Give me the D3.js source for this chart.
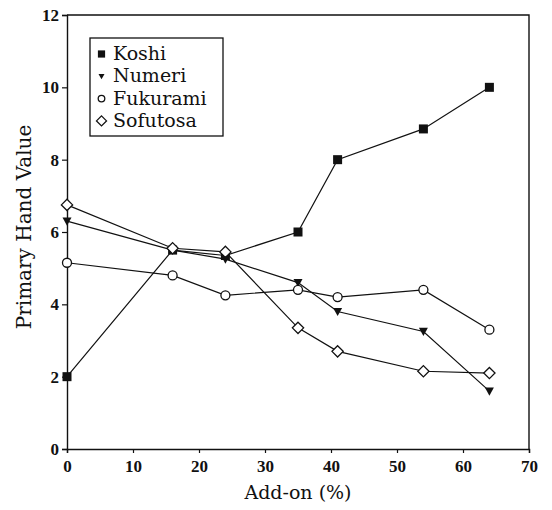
<!DOCTYPE html>
<html>
<head>
<meta charset="utf-8">
<script src="https://cdn.jsdelivr.net/npm/d3@7"></script>
<style>
  html, body { margin: 0; padding: 0; background: #fff; }
  svg { display: block; }
  text { font-family: "DejaVu Serif", "Liberation Serif", serif; fill: #111; }
</style>
</head>
<body>
<svg id="chart" width="552" height="510"></svg>
<script>
// Add-on levels (%)
const addOn = [0, 16, 24, 35, 41, 54, 64];

// Primary hand values per series
const koshi    = [2.0, 5.5, 5.35, 6.0, 8.0, 8.85, 10.0];
const numeri   = [6.3, 5.5, 5.25, 4.6, 3.8, 3.25, 1.6];
const fukurami = [5.15, 4.8, 4.25, 4.4, 4.2, 4.4, 3.3];
const sofutosa = [6.75, 5.55, 5.45, 3.35, 2.7, 2.15, 2.1];

const seriesNames = ["Koshi", "Numeri", "Fukurami", "Sofutosa"];
const xTicks = [0, 10, 20, 30, 40, 50, 60, 70];
const yTicks = [0, 2, 4, 6, 8, 10, 12];

const series = [
  { name: seriesNames[0], values: koshi,    marker: "square" },
  { name: seriesNames[1], values: numeri,   marker: "triangle" },
  { name: seriesNames[2], values: fukurami, marker: "circle" },
  { name: seriesNames[3], values: sofutosa, marker: "diamond" }
];

const svg = d3.select("#chart");
const plotLeft = 67, plotRight = 529, plotTop = 15, plotBottom = 449;

const x = d3.scaleLinear().domain([0, 70]).range([plotLeft, plotRight]);
const y = d3.scaleLinear().domain([0, 12]).range([plotBottom, plotTop]);

const ink = "#111";

// frame (top and right edges)
svg.append("path")
  .attr("d", `M${plotLeft},${plotTop}H${plotRight}V${plotBottom}`)
  .attr("fill", "none").attr("stroke", ink).attr("stroke-width", 1.4);

// axes
const xAxis = svg.append("g").attr("transform", `translate(0,${plotBottom})`)
  .call(d3.axisBottom(x).tickValues(xTicks).tickSize(4).tickPadding(7).tickFormat(d3.format("d")));
const yAxis = svg.append("g").attr("transform", `translate(${plotLeft},0)`)
  .call(d3.axisLeft(y).tickValues(yTicks).tickSize(5).tickPadding(3).tickFormat(d3.format("d")));

[xAxis, yAxis].forEach(g => {
  g.select(".domain").attr("stroke", ink).attr("stroke-width", 1.4);
  g.selectAll(".tick line").attr("stroke", ink).attr("stroke-width", 1.2);
  g.selectAll(".tick text")
    .attr("fill", ink)
    .style("font-family", "'Liberation Serif', serif")
    .style("font-size", "17px")
    .style("font-weight", "bold");
});

// axis titles
svg.append("text")
  .attr("x", (plotLeft + plotRight) / 2).attr("y", 499)
  .attr("text-anchor", "middle")
  .style("font-size", "19px")
  .text("Add-on (%)");

svg.append("text")
  .attr("transform", `translate(31,227) rotate(-90)`)
  .attr("text-anchor", "middle")
  .style("font-size", "20px")
  .text("Primary Hand Value");

// marker shapes
function drawMarker(g, type, cx, cy, s) {
  if (type === "square") {
    g.append("rect").attr("x", cx - s).attr("y", cy - s)
      .attr("width", 2 * s).attr("height", 2 * s).attr("fill", ink);
  } else if (type === "triangle") {
    g.append("path")
      .attr("d", `M${cx - s},${cy - s * 0.8}L${cx + s},${cy - s * 0.8}L${cx},${cy + s * 1.0}Z`)
      .attr("fill", ink);
  } else if (type === "circle") {
    g.append("circle").attr("cx", cx).attr("cy", cy).attr("r", s)
      .attr("fill", "#fff").attr("stroke", ink).attr("stroke-width", 1.3);
  } else if (type === "diamond") {
    const d = s * 1.25;
    g.append("path")
      .attr("d", `M${cx},${cy - d}L${cx + d},${cy}L${cx},${cy + d}L${cx - d},${cy}Z`)
      .attr("fill", "#fff").attr("stroke", ink).attr("stroke-width", 1.3);
  }
}

const line = d3.line().x((d, i) => x(addOn[i])).y(d => y(d));

// connecting lines
series.forEach(s => {
  svg.append("path").datum(s.values)
    .attr("d", line)
    .attr("fill", "none").attr("stroke", ink).attr("stroke-width", 1.2);
});

// point markers
const marks = svg.append("g");
series.forEach(s => {
  s.values.forEach((v, i) => {
    drawMarker(marks, s.marker, x(addOn[i]), y(v), 4.5);
  });
});

// legend
const legendSize = { square: 3.6, triangle: 3, circle: 3.3, diamond: 4 };
const lg = svg.append("g").attr("transform", "translate(90,38)");
lg.append("rect").attr("width", 133).attr("height", 98)
  .attr("fill", "#fff").attr("stroke", ink).attr("stroke-width", 1.3);
series.forEach((s, i) => {
  const base = 22 + i * 22.3;
  drawMarker(lg, s.marker, 11.5, base - 6, legendSize[s.marker]);
  lg.append("text").attr("x", 23).attr("y", base)
    .style("font-size", "19px")
    .text(s.name);
});
</script>
</body>
</html>
